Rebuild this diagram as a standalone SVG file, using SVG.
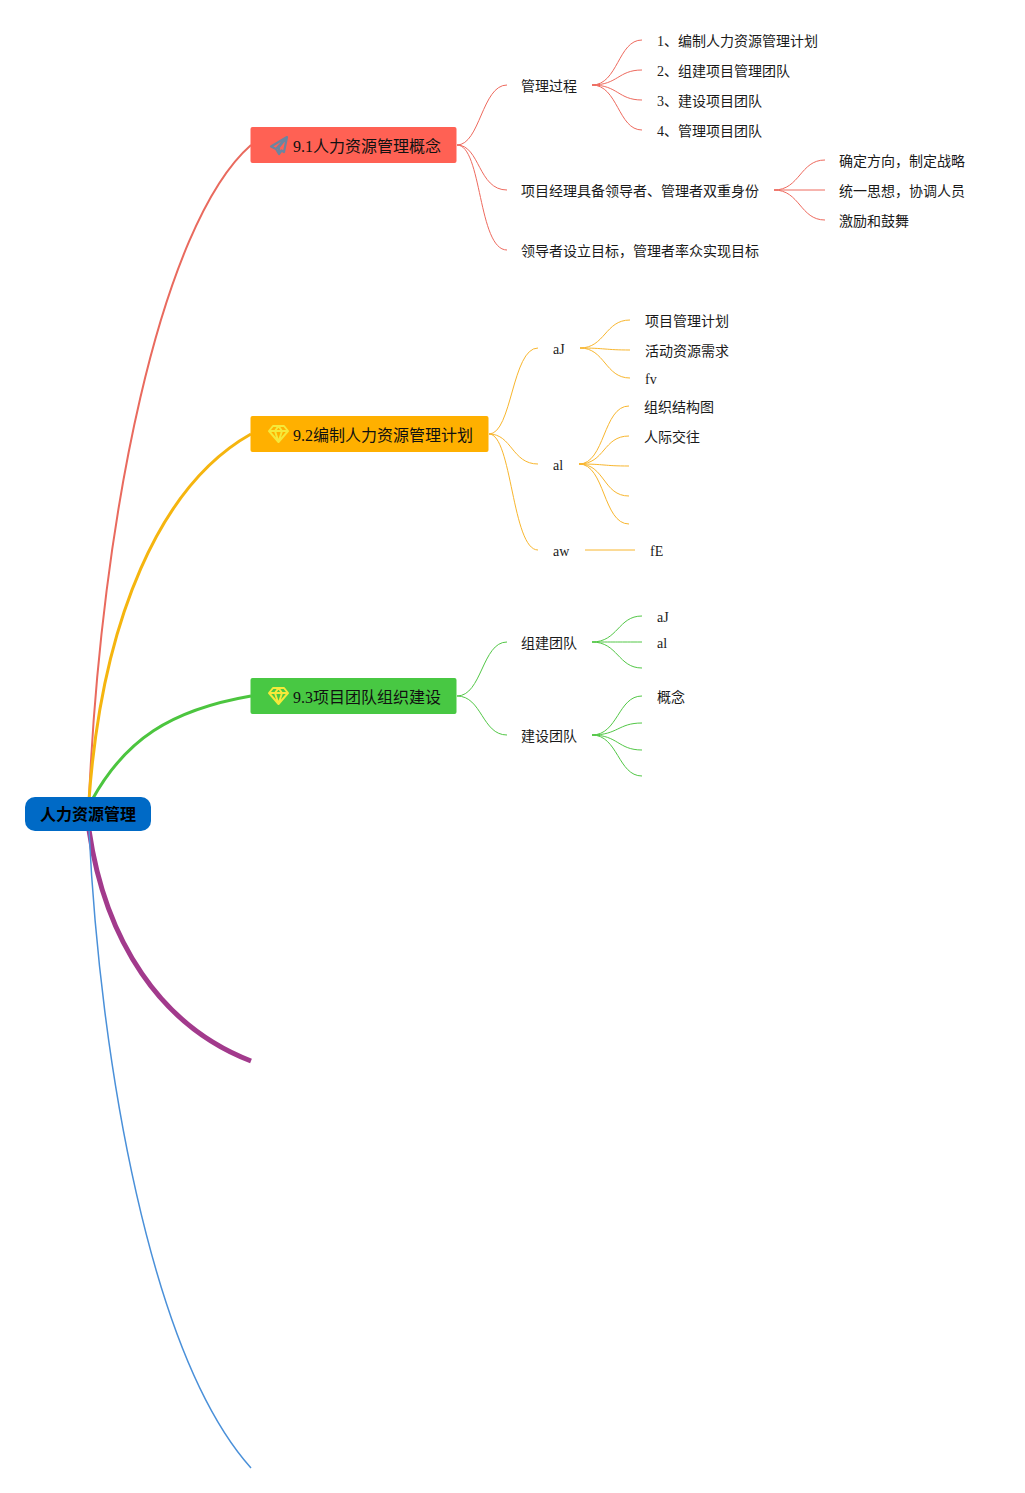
<svg xmlns="http://www.w3.org/2000/svg" width="1025" height="1493" viewBox="0 0 1025 1493">
<style>
text{font-family:"Liberation Serif","Noto Sans CJK SC",serif;font-size:14px;fill:#1a1a1a}
.b{font-size:16px;fill:#111}
.r{font-size:16px;fill:#000;font-weight:bold;font-family:"Liberation Sans","Noto Sans CJK SC",sans-serif}
path{fill:none}
.cr{stroke:#ee6a5e;stroke-width:1}
.cy{stroke:#f8b62e;stroke-width:1}
.cg{stroke:#52c746;stroke-width:1}
.dia{fill:none;stroke:#f5e93a;stroke-width:2;stroke-linejoin:round}
</style>
<rect width="1025" height="1493" fill="#fff"/>
<g id="connectors">
<path d="M89 800C101 520 160 225 251 145" stroke="#e96a5e" stroke-width="2"/>
<path d="M89 800C102 620 160 485 251 434" stroke="#f5b50f" stroke-width="3"/>
<path d="M92 800C125 740 170 710 251 696" stroke="#4cc53f" stroke-width="3"/>
<path d="M89 830C105 940 160 1026 251 1061" stroke="#a23a8c" stroke-width="5"/>
<path d="M89 830C100 1060 150 1355 251 1468" stroke="#4a90d9" stroke-width="1.5"/>

<path class="cr" d="M457 145C480 145 482 85 507 85"/>
<path class="cr" d="M457 145C480 145 478 190 507 190"/>
<path class="cr" d="M457 145C482 145 478 250 507 250"/>
<path class="cr" d="M592 85C618 85 618 40 642 40"/>
<path class="cr" d="M592 85C618 85 618 70 642 70"/>
<path class="cr" d="M592 85C618 85 618 100 642 100"/>
<path class="cr" d="M592 85C618 85 618 130 642 130"/>
<path class="cr" d="M774 190C800 190 800 160 825 160"/>
<path class="cr" d="M774 190H825"/>
<path class="cr" d="M774 190C800 190 800 220 825 220"/>

<path class="cy" d="M489 434C512 434 512 348 538 348"/>
<path class="cy" d="M489 434C512 434 512 464 538 464"/>
<path class="cy" d="M489 434C512 434 512 550 538 550"/>
<path class="cy" d="M580 348C605 348 605 320 630 320"/>
<path class="cy" d="M580 348C605 348 605 350 630 350"/>
<path class="cy" d="M580 348C605 348 605 378 630 378"/>
<path class="cy" d="M579 464C605 464 603 406 629 406"/>
<path class="cy" d="M579 464C605 464 603 436 629 436"/>
<path class="cy" d="M579 464C605 464 603 466 629 466"/>
<path class="cy" d="M579 464C605 464 603 496 629 496"/>
<path class="cy" d="M579 464C605 464 603 524 629 524"/>
<path class="cy" d="M585 550H635"/>

<path class="cg" d="M457 696C482 696 482 642 507 642"/>
<path class="cg" d="M457 696C482 696 482 735 507 735"/>
<path class="cg" d="M592 642C618 642 618 616 642 616"/>
<path class="cg" d="M592 642C618 642 618 642 642 642"/>
<path class="cg" d="M592 642C618 642 618 668 642 668"/>
<path class="cg" d="M592 735C618 735 618 696 642 696"/>
<path class="cg" d="M592 735C618 735 618 723 642 723"/>
<path class="cg" d="M592 735C618 735 618 750 642 750"/>
<path class="cg" d="M592 735C618 735 618 776 642 776"/>
</g>

<g id="root"><rect x="25" y="797" width="126" height="34" rx="10" fill="#006ac6"/><text class="r" x="88" y="820" text-anchor="middle">人力资源管理</text></g>

<g id="n91"><rect x="250.500" y="127" width="206" height="36" rx="2" fill="#ff6154"/>
<path d="M287 137L271 146.500L276 149L279 154L281.500 150.500L284 152ZM287 137L276 149M287 137L279 147L279 154" stroke="#6b85a0" stroke-width="2.200" stroke-linejoin="round"/>
<text class="b" x="293" y="152">9.1人力资源管理概念</text></g>

<g id="n92"><rect x="250.500" y="416" width="238" height="36" rx="2" fill="#ffb000"/>
<path class="dia" d="M273 426H284L288 431L278.500 442L269 431ZM269 431H288M275 431L278.500 442L282 431M275 431L278.500 426L282 431"/>
<text class="b" x="293" y="441">9.2编制人力资源管理计划</text></g>

<g id="n93"><rect x="250.500" y="678" width="206" height="36" rx="2" fill="#48c843"/>
<path class="dia" d="M273 688H284L288 693L278.500 704L269 693ZM269 693H288M275 693L278.500 704L282 693M275 693L278.500 688L282 693"/>
<text class="b" x="293" y="703">9.3项目团队组织建设</text></g>

<g id="labels-red">
<text x="521" y="91">管理过程</text>
<text x="521" y="196">项目经理具备领导者、管理者双重身份</text>
<text x="521" y="256">领导者设立目标，管理者率众实现目标</text>
<text x="657" y="46">1、编制人力资源管理计划</text>
<text x="657" y="76">2、组建项目管理团队</text>
<text x="657" y="106">3、建设项目团队</text>
<text x="657" y="136">4、管理项目团队</text>
<text x="839" y="166">确定方向，制定战略</text>
<text x="839" y="196">统一思想，协调人员</text>
<text x="839" y="226">激励和鼓舞</text>
</g>
<g id="labels-yellow">
<text x="553" y="354">aJ</text>
<text x="553" y="470">al</text>
<text x="553" y="556">aw</text>
<text x="645" y="326">项目管理计划</text>
<text x="645" y="356">活动资源需求</text>
<text x="645" y="384">fv</text>
<text x="644" y="412">组织结构图</text>
<text x="644" y="442">人际交往</text>
<text x="650" y="556">fE</text>
</g>
<g id="labels-green">
<text x="521" y="648">组建团队</text>
<text x="521" y="741">建设团队</text>
<text x="657" y="622">aJ</text>
<text x="657" y="648">al</text>
<text x="657" y="702">概念</text>
</g>
</svg>
